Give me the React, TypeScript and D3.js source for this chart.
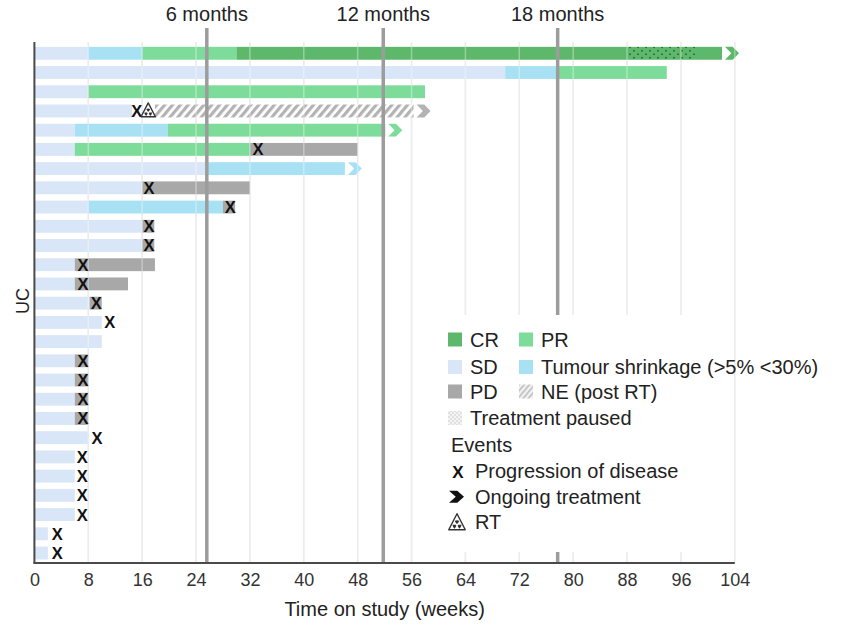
import React from "react";
import * as d3 from "d3";

const WIDTH = 844;
const HEIGHT = 636;
const MARGINS = { top: 43.3, right: 109.2, bottom: 73, left: 34.4 };
const FONT = "'Liberation Sans', Arial, Helvetica, sans-serif";

const COLORS = {
  CR: "#5db86b",
  PR: "#7edc9a",
  SD: "#d8e6f7",
  TS: "#a8e1f3",
  PD: "#a8a8a8",
  NE: "#b3b3b3",
  month: "#9c9c9c",
  grid: "#e2e2e2",
  axis: "#4a4a4a",
  text: "#222",
};

// one row per patient (top to bottom)
const patients = [
  "P1", "P2", "P3", "P4", "P5", "P6", "P7", "P8", "P9", "P10", "P11", "P12", "P13", "P14",
  "P15", "P16", "P17", "P18", "P19", "P20", "P21", "P22", "P23", "P24", "P25", "P26", "P27",
];

// [row, start week, end week]
type Seg = [number, number, number];

const sdSegments: Seg[] = [
  [1, 0, 8], [2, 0, 69.9], [3, 0, 8], [4, 0, 14.5], [5, 0, 6], [6, 0, 6], [7, 0, 25.7],
  [8, 0, 16], [9, 0, 8], [10, 0, 16], [11, 0, 16], [12, 0, 6], [13, 0, 6], [14, 0, 8.2],
  [15, 0, 10], [16, 0, 10], [17, 0, 6], [18, 0, 6], [19, 0, 6], [20, 0, 6], [21, 0, 8],
  [22, 0, 6], [23, 0, 6], [24, 0, 6], [25, 0, 6], [26, 0, 2], [27, 0, 2],
];
const tsSegments: Seg[] = [
  [1, 8, 16], [2, 69.9, 77.9], [5, 6, 19.8], [7, 25.7, 46.1], [9, 8, 28],
];
const prSegments: Seg[] = [
  [1, 16, 30], [2, 77.9, 93.9], [3, 8, 58], [5, 19.8, 52.1], [6, 6, 32],
];
const crSegments: Seg[] = [[1, 30, 102.1]];
const pdSegments: Seg[] = [
  [6, 32, 48], [8, 16, 32], [9, 28, 29.8], [10, 16, 17.8], [11, 16, 17.8], [12, 6, 17.9],
  [13, 6, 13.9], [14, 8.2, 10], [17, 6, 8], [18, 6, 8], [19, 6, 8], [20, 6, 8],
];
const neSegments: Seg[] = [[4, 17.9, 56.3]];
const pausedSegments: Seg[] = [[1, 88, 98.2]];

// [row, week]
const progressionEvents: [number, number][] = [
  [4, 15.2], [6, 33.2], [8, 17], [9, 29.1], [10, 17], [11, 17], [12, 7.2], [13, 7.2],
  [14, 9.2], [15, 11.2], [17, 7.2], [18, 7.2], [19, 7.2], [20, 7.2], [21, 9.3],
  [22, 7.1], [23, 7.1], [24, 7.1], [25, 7.1], [26, 3.4], [27, 3.4],
];
const rtEvents: [number, number][] = [[4, 16.9]];
// [row, week where bar ends, colour key]
const ongoingEvents: [number, number, keyof typeof COLORS][] = [
  [1, 102.1, "CR"], [4, 56.3, "NE"], [5, 52.1, "PR"], [7, 46.1, "TS"],
];

const monthWeeks = [25.6, 51.8, 77.7];
const monthLabels = ["6 months", "12 months", "18 months"];
const xTicks = [0, 8, 16, 24, 32, 40, 48, 56, 64, 72, 80, 88, 96, 104];

const chevron = (x0: number, cy: number, h: number, w: number) =>
  `M${x0},${cy - h / 2}L${x0 + w * 0.55},${cy - h / 2}L${x0 + w},${cy}L${x0 + w * 0.55},${cy + h / 2}L${x0},${cy + h / 2}L${x0 + w * 0.45},${cy}Z`;

const drawRT = (g: d3.Selection<SVGGElement, unknown, null, undefined>, cx: number, cy: number, s: number) => {
  const t = g.append("g").attr("transform", `translate(${cx}, ${cy})`);
  t.append("path")
    .attr("d", `M0,${-s * 0.62}L${s * 0.55},${s * 0.45}L${-s * 0.55},${s * 0.45}Z`)
    .attr("fill", "#fff")
    .attr("stroke", "#333")
    .attr("stroke-width", 1.4)
    .attr("stroke-linejoin", "round");
  const arc = d3.arc<number>()
    .innerRadius(s * 0.08)
    .outerRadius(s * 0.3)
    .startAngle((d) => d - Math.PI / 6)
    .endAngle((d) => d + Math.PI / 6);
  t.append("g")
    .attr("transform", `translate(0, ${s * 0.12})`)
    .selectAll("path")
    .data([0, (2 * Math.PI) / 3, (4 * Math.PI) / 3])
    .enter()
    .append("path")
    .attr("d", (d) => arc(d)!)
    .attr("fill", "#333");
};

const App = () => {
  const ref = React.useRef<SVGSVGElement>(null);

  React.useEffect(() => {
    const svg = d3.select(ref.current!);
    svg.selectAll("*").remove();

    const x = d3
      .scaleLinear()
      .domain([0, 104])
      .range([MARGINS.left, WIDTH - MARGINS.right]);
    const y = d3
      .scaleBand<string>()
      .domain(patients)
      .range([MARGINS.top, HEIGHT - MARGINS.bottom])
      .paddingInner(0.33)
      .paddingOuter(0.185);
    const bw = y.bandwidth();
    const rowTop = (r: number) => y(patients[r - 1])!;
    const rowMid = (r: number) => rowTop(r) + bw / 2;
    const plotTop = 42;
    const plotBottom = HEIGHT - MARGINS.bottom;

    const defs = svg.append("defs");
    const hatch = defs
      .append("pattern")
      .attr("id", "hatch")
      .attr("patternUnits", "userSpaceOnUse")
      .attr("width", 6)
      .attr("height", 6)
      .attr("patternTransform", "rotate(40)");
    hatch.append("rect").attr("width", 6).attr("height", 6).attr("fill", "#fff");
    hatch.append("rect").attr("width", 3.2).attr("height", 6).attr("fill", COLORS.NE);

    const hatchLegend = defs
      .append("pattern")
      .attr("id", "hatchLegend")
      .attr("patternUnits", "userSpaceOnUse")
      .attr("width", 4)
      .attr("height", 4)
      .attr("patternTransform", "rotate(40)");
    hatchLegend.append("rect").attr("width", 4).attr("height", 4).attr("fill", "#f2f2f2");
    hatchLegend.append("rect").attr("width", 1.6).attr("height", 4).attr("fill", "#bdbdbd");

    const paused = defs
      .append("pattern")
      .attr("id", "paused")
      .attr("patternUnits", "userSpaceOnUse")
      .attr("width", 8)
      .attr("height", 7);
    paused.append("circle").attr("cx", 2).attr("cy", 1.8).attr("r", 1).attr("fill", "#2f6f3a");
    paused.append("circle").attr("cx", 6).attr("cy", 5.3).attr("r", 1).attr("fill", "#2f6f3a");

    const pausedLegend = defs
      .append("pattern")
      .attr("id", "pausedLegend")
      .attr("patternUnits", "userSpaceOnUse")
      .attr("width", 4)
      .attr("height", 4);
    pausedLegend.append("rect").attr("width", 4).attr("height", 4).attr("fill", "#f4f4f4");
    pausedLegend.append("circle").attr("cx", 1).attr("cy", 1).attr("r", 0.8).attr("fill", "#c8c8c8");
    pausedLegend.append("circle").attr("cx", 3).attr("cy", 3).attr("r", 0.8).attr("fill", "#c8c8c8");

    // gridlines under bars
    const gridWeeks = xTicks.filter((t) => t > 0);
    svg
      .append("g")
      .selectAll("line")
      .data(gridWeeks)
      .enter()
      .append("line")
      .attr("x1", (d) => x(d))
      .attr("x2", (d) => x(d))
      .attr("y1", plotTop)
      .attr("y2", plotBottom)
      .attr("stroke", COLORS.grid)
      .attr("stroke-width", 1.5);

    const bars = svg.append("g").attr("class", "bars");
    const drawSegs = (segs: Seg[], fill: string) => {
      bars
        .append("g")
        .selectAll("rect")
        .data(segs)
        .enter()
        .append("rect")
        .attr("x", (d) => x(d[1]))
        .attr("y", (d) => rowTop(d[0]))
        .attr("width", (d) => x(d[2]) - x(d[1]))
        .attr("height", bw)
        .attr("fill", fill);
    };
    drawSegs(sdSegments, COLORS.SD);
    drawSegs(tsSegments, COLORS.TS);
    drawSegs(prSegments, COLORS.PR);
    drawSegs(crSegments, COLORS.CR);
    drawSegs(pdSegments, COLORS.PD);
    drawSegs(neSegments, "url(#hatch)");
    drawSegs(pausedSegments, "url(#paused)");

    // ongoing chevrons
    bars
      .append("g")
      .selectAll("path")
      .data(ongoingEvents)
      .enter()
      .append("path")
      .attr("d", (d) => chevron(x(d[1]) + 3, rowMid(d[0]), bw, 14))
      .attr("fill", (d) => COLORS[d[2]]);

    // gridlines lightly over bars
    svg
      .append("g")
      .selectAll("line")
      .data(gridWeeks)
      .enter()
      .append("line")
      .attr("x1", (d) => x(d))
      .attr("x2", (d) => x(d))
      .attr("y1", plotTop)
      .attr("y2", plotBottom)
      .attr("stroke", "#fff")
      .attr("stroke-opacity", 0.35)
      .attr("stroke-width", 1.5);

    // month reference lines
    svg
      .append("g")
      .selectAll("line")
      .data(monthWeeks)
      .enter()
      .append("line")
      .attr("x1", (d) => x(d))
      .attr("x2", (d) => x(d))
      .attr("y1", 28)
      .attr("y2", plotBottom)
      .attr("stroke", COLORS.month)
      .attr("stroke-width", 3.5);
    svg
      .append("g")
      .selectAll("text")
      .data(monthWeeks)
      .enter()
      .append("text")
      .attr("x", (d) => x(d))
      .attr("y", 20.5)
      .attr("text-anchor", "middle")
      .attr("font-family", FONT)
      .attr("font-size", 20)
      .attr("fill", COLORS.text)
      .text((_, i) => monthLabels[i]);

    // events
    const events = svg.append("g");
    events
      .selectAll("text")
      .data(progressionEvents)
      .enter()
      .append("text")
      .attr("x", (d) => x(d[1]))
      .attr("y", (d) => rowMid(d[0]) + 6)
      .attr("text-anchor", "middle")
      .attr("font-family", FONT)
      .attr("font-weight", "bold")
      .attr("font-size", 16.5)
      .attr("fill", "#111")
      .text("X");
    rtEvents.forEach((d) => drawRT(events, x(d[1]), rowMid(d[0]), 13));

    // axes
    svg
      .append("line")
      .attr("x1", x(0))
      .attr("x2", x(0))
      .attr("y1", plotTop)
      .attr("y2", plotBottom)
      .attr("stroke", COLORS.axis)
      .attr("stroke-width", 2);
    const xAxis = d3.axisBottom(x).tickValues(xTicks).tickSize(0).tickPadding(10).tickFormat((d) => String(d));
    const xg = svg
      .append("g")
      .attr("transform", `translate(0, ${plotBottom})`)
      .call(xAxis);
    xg.select(".domain").remove();
    xg.selectAll("text")
      .attr("font-family", FONT)
      .attr("font-size", 18)
      .attr("fill", "#333");
    svg
      .append("line")
      .attr("x1", x(0) - 1)
      .attr("x2", x(104))
      .attr("y1", plotBottom)
      .attr("y2", plotBottom)
      .attr("stroke", COLORS.axis)
      .attr("stroke-width", 2);

    svg
      .append("text")
      .attr("x", (x(0) + x(104)) / 2)
      .attr("y", 616)
      .attr("text-anchor", "middle")
      .attr("font-family", FONT)
      .attr("font-size", 20)
      .attr("fill", COLORS.text)
      .text("Time on study (weeks)");
    svg
      .append("text")
      .attr("transform", "translate(23, 301) rotate(-90)")
      .attr("text-anchor", "middle")
      .attr("dominant-baseline", "central")
      .attr("font-family", FONT)
      .attr("font-size", 18)
      .attr("fill", COLORS.text)
      .text("UC");

    // legend
    const legend = svg.append("g");
    legend
      .append("rect")
      .attr("x", 428)
      .attr("y", 315)
      .attr("width", 305)
      .attr("height", 237)
      .attr("fill", "#fff");

    const swatches = [
      { x: 448, y: 339.5, fill: COLORS.CR, label: "CR" },
      { x: 519, y: 339.5, fill: COLORS.PR, label: "PR" },
      { x: 448, y: 367, fill: COLORS.SD, label: "SD" },
      { x: 519, y: 367, fill: COLORS.TS, label: "Tumour shrinkage (>5% <30%)" },
      { x: 448, y: 391.5, fill: COLORS.PD, label: "PD" },
      { x: 519, y: 391.5, fill: "url(#hatchLegend)", label: "NE (post RT)" },
      { x: 448, y: 418, fill: "url(#pausedLegend)", label: "Treatment paused" },
    ];
    legend
      .selectAll("rect.sw")
      .data(swatches)
      .enter()
      .append("rect")
      .attr("class", "sw")
      .attr("x", (d) => d.x)
      .attr("y", (d) => d.y - 7)
      .attr("width", 14)
      .attr("height", 14)
      .attr("fill", (d) => d.fill);
    legend
      .selectAll("text.sw")
      .data(swatches)
      .enter()
      .append("text")
      .attr("class", "sw")
      .attr("x", (d) => d.x + 22)
      .attr("y", (d) => d.y + 7)
      .attr("font-family", FONT)
      .attr("font-size", 20)
      .attr("fill", COLORS.text)
      .text((d) => d.label);

    const legendText = (tx: number, ty: number, s: string) =>
      legend
        .append("text")
        .attr("x", tx)
        .attr("y", ty + 7)
        .attr("font-family", FONT)
        .attr("font-size", 20)
        .attr("fill", COLORS.text)
        .text(s);
    legendText(451, 445, "Events");
    legend
      .append("text")
      .attr("x", 458)
      .attr("y", 471 + 6.5)
      .attr("text-anchor", "middle")
      .attr("font-family", FONT)
      .attr("font-weight", "bold")
      .attr("font-size", 17)
      .attr("fill", "#111")
      .text("X");
    legendText(475, 471, "Progression of disease");
    legend
      .append("path")
      .attr("d", chevron(449, 496.7, 12, 15))
      .attr("fill", "#111");
    legendText(475, 496.7, "Ongoing treatment");
    drawRT(legend, 457, 523, 15);
    legendText(475, 522, "RT");
  }, []);

  return (
    <svg
      ref={ref}
      width={WIDTH}
      height={HEIGHT}
      style={{ position: "absolute", left: 0, top: 0, background: "#fff" }}
    />
  );
};

export default App;
